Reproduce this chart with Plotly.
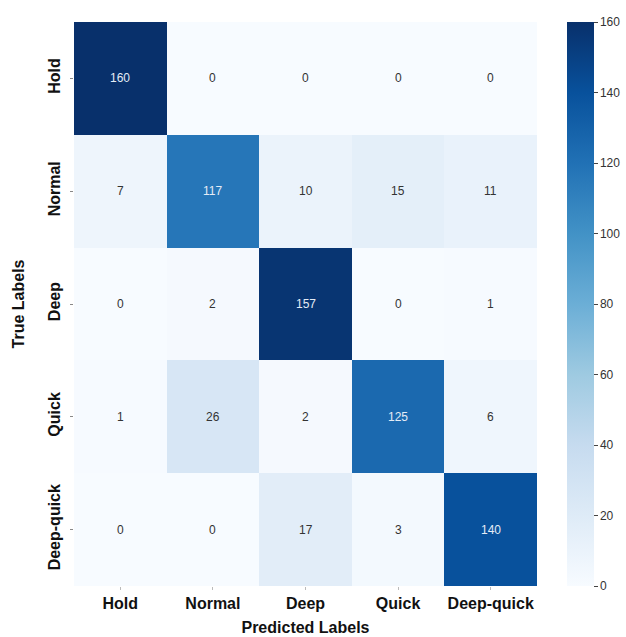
import plotly.graph_objects as go

labels = ["Hold", "Normal", "Deep", "Quick", "Deep-quick"]
matrix = [
    [160, 0, 0, 0, 0],
    [7, 117, 10, 15, 11],
    [0, 2, 157, 0, 1],
    [1, 26, 2, 125, 6],
    [0, 0, 17, 3, 140],
]
cbar_ticks = [0, 20, 40, 60, 80, 100, 120, 140, 160]

fig = go.Figure()
fig.add_trace(go.Heatmap(
    z=matrix, x=labels, y=labels,
    colorscale="Blues", zmin=0, zmax=160,
    showscale=True,
    colorbar=dict(
        x=1.065, xanchor="left", y=0.5, yanchor="middle", len=1.0,
        thickness=27, outlinewidth=0, xpad=0, ypad=0,
        tickvals=cbar_ticks, ticks="outside", ticklen=4, tickcolor="#444",
        tickfont=dict(family="Liberation Sans, Arial", size=12, color="#333"),
    ),
    hoverinfo="skip",
))

ann = []
for i, row in enumerate(matrix):
    for j, v in enumerate(row):
        ann.append(dict(
            x=labels[j], y=labels[i], text=str(v), showarrow=False,
            font=dict(family="Liberation Sans, Arial", size=12,
                      color="#e4ecf6" if v > 100 else "#333"),
        ))

fig.update_layout(
    width=626, height=637,
    margin=dict(l=74, r=89, t=22, b=51, autoexpand=False),
    paper_bgcolor="white", plot_bgcolor="white",
    annotations=ann,
    xaxis=dict(
        title=dict(text="<b>Predicted Labels</b>", standoff=10,
                   font=dict(family="Liberation Sans, Arial", size=16, color="#111")),
        tickfont=dict(family="Liberation Sans, Arial", size=16, color="#111"),
        ticktext=["<b>%s</b>" % l for l in labels], tickvals=labels,
        ticks="outside", ticklen=3, tickcolor="#bbb", showgrid=False, zeroline=False,
        showline=False, automargin=False,
    ),
    yaxis=dict(
        title=dict(text="<b>True Labels</b>", standoff=16,
                   font=dict(family="Liberation Sans, Arial", size=16, color="#111")),
        tickfont=dict(family="Liberation Sans, Arial", size=16, color="#111"),
        ticktext=["<b>%s</b>" % l for l in labels], tickvals=labels,
        tickangle=-90, ticklabelstandoff=4,
        autorange="reversed",
        ticks="outside", ticklen=3, tickcolor="#888", showgrid=False, zeroline=False,
        showline=False, automargin=False,
    ),
)

fig.write_html(
    "out.html",
    config={"displayModeBar": False},
    post_script="document.body.style.margin='0';document.body.style.overflow='hidden';",
)
